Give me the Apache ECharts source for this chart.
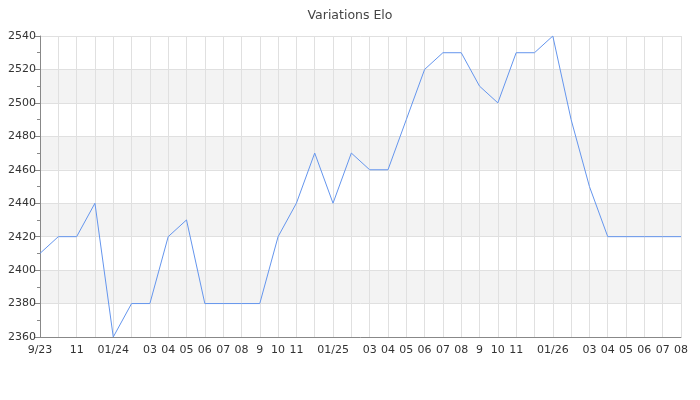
<!DOCTYPE html>
<html><head><meta charset="utf-8">
<script src="https://cdn.jsdelivr.net/npm/echarts@6/dist/echarts.min.js"></script>
<style>html,body{margin:0;padding:0;background:#fff}#c{width:700px;height:400px}</style>
</head><body><div id="c"></div>
<script>
var categories = ['2023-09','2023-10','2023-11','2023-12','2024-01','2024-02','2024-03','2024-04','2024-05','2024-06','2024-07','2024-08','2024-09','2024-10','2024-11','2024-12','2025-01','2025-02','2025-03','2025-04','2025-05','2025-06','2025-07','2025-08','2025-09','2025-10','2025-11','2025-12','2026-01','2026-02','2026-03','2026-04','2026-05','2026-06','2026-07','2026-08'];
var tickLabels = ['9/23','','11','','01/24','','03','04','05','06','07','08','9','10','11','','01/25','','03','04','05','06','07','08','9','10','11','','01/26','','03','04','05','06','07','08'];
var elo = [2410,2420,2420,2440,2360,2380,2380,2420,2430,2380,2380,2380,2380,2420,2440,2470,2440,2470,2460,2460,2490,2520,2530,2530,2510,2500,2530,2530,2540,2490,2450,2420,2420,2420,2420,2420];
var yTicks = {min:2360, max:2540, interval:20};

var chart = echarts.init(document.getElementById('c'), null, {renderer:'canvas'});
var font = 'DejaVu Sans';
chart.setOption({
  animation:false,
  title:{text:'Variations Elo', left:'center', top:4, textStyle:{fontFamily:font, fontSize:12.5, fontWeight:'normal', color:'#444'}},
  grid:{left:40, right:19, top:36, bottom:63},
  xAxis:{
    type:'category', data:categories, boundaryGap:false,
    axisLine:{lineStyle:{color:'#888', width:1}},
    axisTick:{show:false},
    axisLabel:{interval:0, color:'#333', fontFamily:font, fontSize:11, margin:8,
      formatter:function(v, i){ return tickLabels[i]; }},
    splitLine:{show:true, interval:0, lineStyle:{color:'#e0e0e0', width:1}}
  },
  yAxis:{
    type:'value', min:yTicks.min, max:yTicks.max, interval:yTicks.interval,
    axisLine:{show:true, lineStyle:{color:'#888', width:1}},
    axisTick:{show:true, length:5, lineStyle:{color:'#888'}},
    minorTick:{show:true, splitNumber:2, length:3, lineStyle:{color:'#888'}},
    axisLabel:{color:'#333', fontFamily:font, fontSize:11, margin:4,
      formatter:function(v){ return String(v); }},
    splitLine:{show:true, lineStyle:{color:'#e0e0e0', width:1}},
    splitArea:{show:true, areaStyle:{color:['#ffffff','#f3f3f3']}}
  },
  series:[{type:'line', data:elo, showSymbol:false, symbol:'none',
    lineStyle:{color:'#6495ED', width:1}, itemStyle:{color:'#6495ED'}}]
});
</script></body></html>
